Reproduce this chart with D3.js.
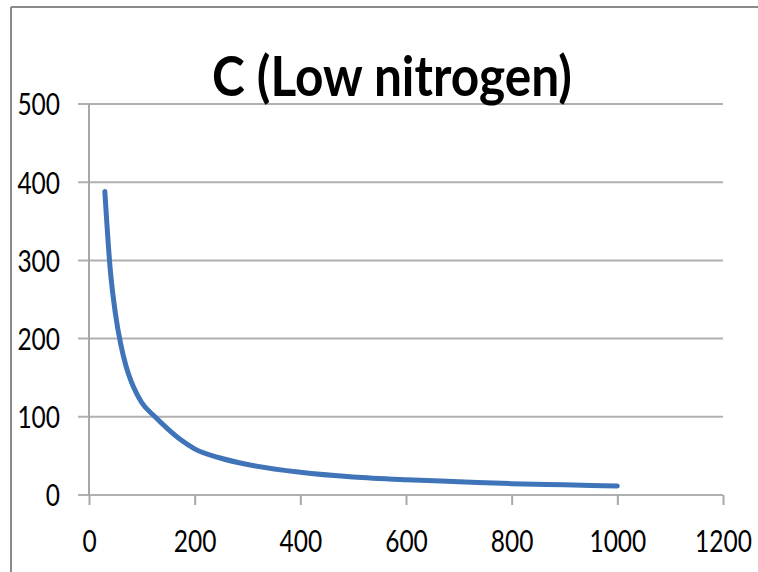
<!DOCTYPE html>
<meta charset="utf-8">
<html>
    <head>
        <style type="text/css">
            body { margin:0; background:#fff; }
            svg { display:block; }
            .graphText { font-family: "Lato", "Open Sans", sans-serif; fill:#000; }
        </style>
        <script src="https://d3js.org/d3.v7.min.js"></script>
    </head>
    <body>
        <svg width="758" height="572"></svg>
        <script type="text/javascript">
            // data
            var xValues = [30, 40, 50, 60, 70, 80, 90, 100, 125, 150, 175, 200, 250, 300, 400, 500, 600, 700, 800, 900, 1000];
            var yValues = [388, 290, 232, 193, 165, 145, 130, 118, 100, 84, 70, 59, 47, 39, 29, 23, 19.5, 17, 14.5, 13, 11.5];
            var xTicks = [0, 200, 400, 600, 800, 1000, 1200];
            var yTicks = [0, 100, 200, 300, 400, 500];
            var title = "C (Low nitrogen)";

            var margin = {top: 104, bottom: 77, left: 89, right: 35};
            var width = 758, height = 572;
            var digitW = 14.2;

            var svg = d3.select("svg");

            var xScale = d3.scaleLinear()
                .domain([0, 1200])
                .range([margin.left, width - margin.right]);
            var yScale = d3.scaleLinear()
                .domain([0, 500])
                .range([height - margin.bottom, margin.top]);

            // outer frame (top + left edges visible)
            svg.append("line")
                .attr("x1", 11).attr("y1", 7).attr("x2", width).attr("y2", 7)
                .style("stroke", "#8a8a8a").style("stroke-width", 2);
            svg.append("line")
                .attr("x1", 11).attr("y1", 7).attr("x2", 11).attr("y2", height)
                .style("stroke", "#8a8a8a").style("stroke-width", 2);

            // horizontal gridlines, sticking out left as tick marks
            svg.selectAll(".grid")
                .data(yTicks)
                .enter().append("line")
                .attr("class", "grid")
                .attr("x1", margin.left - 11)
                .attr("x2", xScale(1200))
                .attr("y1", d => yScale(d))
                .attr("y2", d => yScale(d))
                .style("stroke", "#b0b0b0")
                .style("stroke-width", 2);

            // y axis line
            svg.append("line")
                .attr("x1", xScale(0)).attr("x2", xScale(0))
                .attr("y1", yScale(500)).attr("y2", yScale(0))
                .style("stroke", "#a8a8a8").style("stroke-width", 2);

            // x axis
            var xAxis = d3.axisBottom(xScale)
                .tickValues(xTicks)
                .tickSize(10)
                .tickFormat(d3.format("d"));
            var gx = svg.append("g")
                .attr("transform", "translate(" + [0, yScale(0)] + ")")
                .call(xAxis);
            gx.select(".domain").remove();
            gx.selectAll(".tick line").style("stroke", "#a8a8a8").style("stroke-width", 2);
            gx.selectAll(".tick text")
                .attr("class", "graphText")
                .attr("y", 57).attr("dy", null)
                .style("font-size", "30px")
                .attr("textLength", d => String(d).length * digitW)
                .attr("lengthAdjust", "spacingAndGlyphs");

            // y labels
            var yAxis = d3.axisLeft(yScale)
                .tickValues(yTicks)
                .tickSize(0)
                .tickPadding(0);
            var gy = svg.append("g")
                .attr("transform", "translate(" + [60, 0] + ")")
                .call(yAxis);
            gy.select(".domain").remove();
            gy.selectAll(".tick text")
                .attr("class", "graphText")
                .attr("x", 0).attr("dy", "0.36em")
                .style("font-size", "30px")
                .attr("textLength", d => String(d).length * digitW)
                .attr("lengthAdjust", "spacingAndGlyphs");

            // curve
            var pts = xValues.map((x, i) => ({x: x, y: yValues[i]}));
            var line = d3.line()
                .x(d => xScale(d.x))
                .y(d => yScale(d.y))
                .curve(d3.curveMonotoneX);
            svg.append("path")
                .datum(pts)
                .attr("d", line)
                .attr("fill", "none")
                .style("stroke", "#3f74b9")
                .style("stroke-width", 5)
                .style("stroke-linecap", "round")
                .style("stroke-linejoin", "round");

            // title
            svg.append("text")
                .attr("class", "graphText")
                .attr("x", 212)
                .attr("y", 96)
                .style("font-size", "56px")
                .style("font-weight", "bold")
                .attr("textLength", 360)
                .attr("lengthAdjust", "spacingAndGlyphs")
                .text(title);
        </script>
    </body>
</html>
